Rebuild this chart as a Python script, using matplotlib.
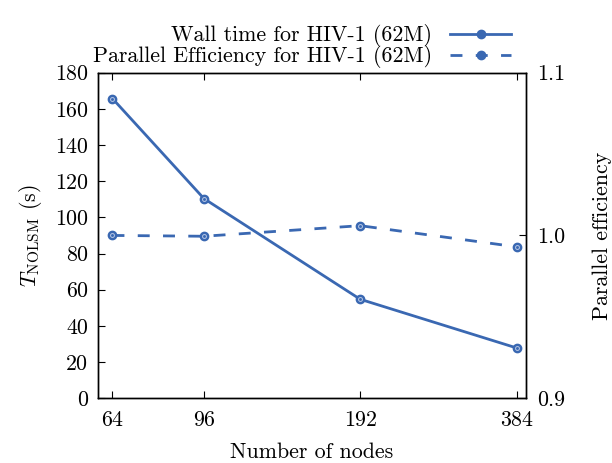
import matplotlib
matplotlib.use("Agg")
import matplotlib.pyplot as plt
from matplotlib.ticker import FixedLocator, FixedFormatter, NullLocator

plt.rcParams['font.family'] = 'serif'
plt.rcParams['font.serif'] = ['cmr10', 'DejaVu Serif']
plt.rcParams['mathtext.fontset'] = 'cm'
plt.rcParams['axes.unicode_minus'] = False
plt.rcParams['axes.formatter.use_mathtext'] = True

nodes = [64, 96, 192, 384]
wall_time = [165.7, 110.4, 54.7, 27.8]
efficiency = [1.000, 0.9995, 1.006, 0.993]
x_tick_labels = ['64', '96', '192', '384']
left_ticks = [0, 20, 40, 60, 80, 100, 120, 140, 160, 180]
right_ticks = [0.9, 1.0, 1.1]

color = '#3a68b2'
fs = 15.8

fig = plt.figure(figsize=(6.12, 4.63), dpi=100)
ax = fig.add_axes([0.160, 0.140, 0.699, 0.703])
ax2 = ax.twinx()

ax.set_xscale('log')
ax.set_xlim(60, 400)
ax.set_ylim(0, 180)
ax2.set_ylim(0.9, 1.1)

l1, = ax.plot(nodes, wall_time, '-', color=color, lw=2.0, marker='o', ms=6,
              mfc=color, mec=color, zorder=3)
ax.plot(nodes, wall_time, 'none', marker='o', ms=2.8, mfc='none', mec='#b8c8e6', mew=0.7, zorder=4)
l2, = ax2.plot(nodes, efficiency, color=color, lw=2.0, ls=(0, (4.3, 4.8)), marker='o', ms=6,
               mfc=color, mec=color, zorder=3)
ax2.plot(nodes, efficiency, 'none', marker='o', ms=2.8, mfc='none', mec='#b8c8e6', mew=0.7, zorder=4)

ax.xaxis.set_major_locator(FixedLocator(nodes))
ax.xaxis.set_major_formatter(FixedFormatter(x_tick_labels))
ax.xaxis.set_minor_locator(NullLocator())
ax.set_yticks(left_ticks)
ax.set_yticklabels([str(t) for t in left_ticks])
ax2.set_yticks(right_ticks)
ax2.set_yticklabels(['%.1f' % t for t in right_ticks])

ax.tick_params(axis='x', which='both', direction='in', top=True, bottom=True, length=5, width=0.8,
               labelsize=fs, pad=9)
ax.tick_params(axis='y', direction='in', left=True, right=False, length=5, width=0.8, labelsize=fs, pad=7)
ax2.tick_params(axis='y', direction='in', right=True, length=5, width=0.8, labelsize=fs, pad=8)
for a in (ax, ax2):
    for s in a.spines.values():
        s.set_linewidth(1.0)

ax.set_xlabel('Number of nodes', fontsize=fs, labelpad=8.5)
ax.set_ylabel(r'$T_{\mathrm{NOLSM}}$ (s)', fontsize=fs, labelpad=8)
ax2.set_ylabel('Parallel efficiency', fontsize=fs, labelpad=20)

fig.legend([l1, l2], ['Wall time for HIV-1 (62M)', 'Parallel Efficiency for HIV-1 (62M)'],
           loc='upper right', bbox_to_anchor=(0.868, 0.99), frameon=False, markerfirst=False,
           fontsize=fs, handlelength=2.8, handletextpad=0.8, labelspacing=-0.1)

fig.savefig('out.png', dpi=100)
